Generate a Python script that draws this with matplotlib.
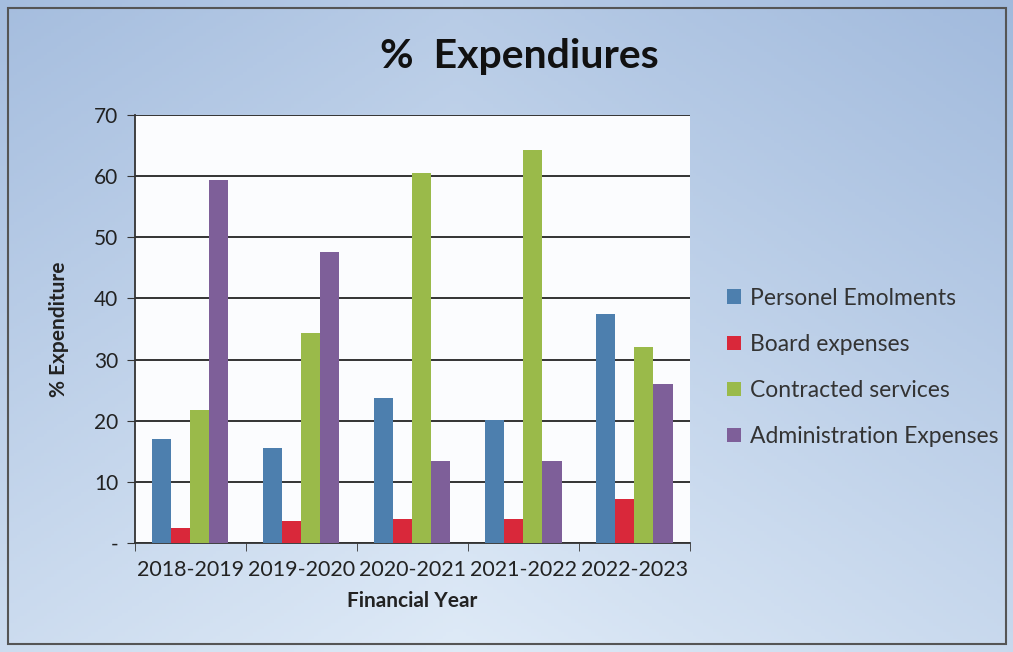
import numpy as np
import matplotlib.pyplot as plt
from matplotlib.patches import Rectangle

# DATA
years = ["2018-2019", "2019-2020", "2020-2021", "2021-2022", "2022-2023"]
personel = [17.0, 15.5, 23.7, 20.1, 37.4]
board = [2.4, 3.6, 4.0, 4.0, 7.2]
contracted = [21.7, 34.3, 60.4, 64.3, 32.0]
admin = [59.4, 47.5, 13.4, 13.4, 26.0]

series = ["Personel Emolments", "Board expenses", "Contracted services", "Administration Expenses"]
colors = ["#4d7fae", "#d9283a", "#9aba4a", "#7e5f99"]
yticks = [0, 10, 20, 30, 40, 50, 60, 70]
ytick_labels = ["-", "10", "20", "30", "40", "50", "60", "70"]

plt.rcParams['font.family'] = ['Lato', 'DejaVu Sans']

fig = plt.figure(figsize=(10.13, 6.52), dpi=100)

# background gradient (scanned slide look)
bg = fig.add_axes([0, 0, 1, 1], zorder=0)
yy, xx = np.mgrid[0:1:200j, 0:1:300j]
top_c = np.array([0.62, 0.72, 0.86])
light_c = np.array([0.90, 0.94, 0.98])
t = np.clip(0.55 * yy + 0.35 * (1 - np.abs(xx - 0.45) * 1.6), 0, 1)
img = top_c[None, None, :] * (1 - t[..., None]) + light_c[None, None, :] * t[..., None]
bg.imshow(img, extent=[0, 1, 0, 1], aspect='auto', origin='upper')
bg.add_patch(Rectangle((0.008, 0.012), 0.985, 0.975, fill=False, edgecolor="#555555", linewidth=1.5))
bg.set_axis_off()

ax = fig.add_axes([0.133, 0.167, 0.548, 0.657], zorder=1)
ax.set_facecolor("#fbfcfe")

x = np.arange(len(years))
w = 0.172
data = [personel, board, contracted, admin]
for i, (vals, name, c) in enumerate(zip(data, series, colors)):
    ax.bar(x + (i - 1.5) * w, vals, width=w, color=c, label=name, zorder=3)

ax.set_xlim(-0.5, len(years) - 0.5)
ax.set_ylim(0, 70)
ax.set_yticks(yticks)
ax.set_yticklabels(ytick_labels, fontsize=15, color="#222222")
ax.set_xticks(x)
ax.set_xticklabels(years, fontsize=15.5, color="#222222")
ax.tick_params(axis='x', length=0, pad=12)
ax.set_xticks(np.arange(-0.5, len(years)), minor=True)
ax.tick_params(axis='x', which='minor', length=6, direction='out', color="#333333")
ax.tick_params(axis='y', length=6, direction='out', color="#333333", pad=6)
ax.yaxis.grid(True, color="#333333", linewidth=1.4, zorder=0)
ax.set_axisbelow(True)
for s in ["top", "right"]:
    ax.spines[s].set_visible(False)
ax.spines["left"].set_color("#333333")
ax.spines["bottom"].set_color("#333333")
ax.spines["left"].set_linewidth(1.3)
ax.spines["bottom"].set_linewidth(1.3)

ax.set_xlabel("Financial Year", fontsize=15, fontweight='bold', color="#222222", labelpad=8)
ax.set_ylabel("% Expenditure", fontsize=15, fontweight='bold', color="#222222", labelpad=18)
fig.text(0.513, 0.913, "%  Expendiures", fontsize=29.5, fontweight='bold', ha='center', va='center',
         color="#111111")

ax.legend(loc='center left', bbox_to_anchor=(1.03, 0.41), frameon=False, fontsize=16.5,
          handlelength=0.6, handleheight=0.6, handletextpad=0.4, labelspacing=1.1,
          labelcolor="#333333")

fig.savefig("out.png", dpi=100)
